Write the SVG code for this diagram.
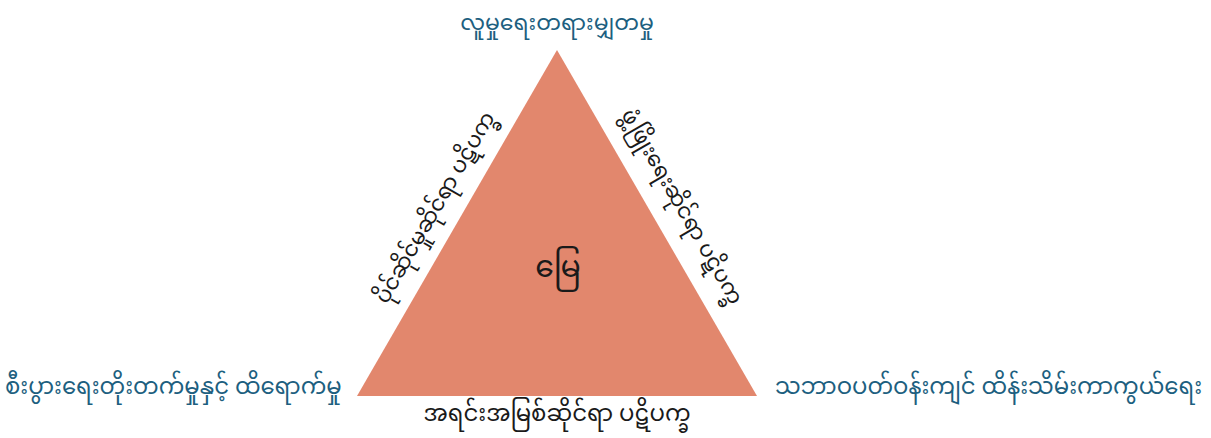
<svg xmlns="http://www.w3.org/2000/svg" width="1211" height="438" viewBox="0 0 1211 438">
<style>
.lbl{font-family:"Noto Sans Myanmar","Padauk","Myanmar Text","Noto Sans",sans-serif;font-size:22.8px;fill:#1d5f80;}
.side{font-family:"Noto Sans Myanmar","Padauk","Myanmar Text","Noto Sans",sans-serif;font-size:21.5px;fill:#1a1a1a;}
</style>
<rect width="1211" height="438" fill="#ffffff"/>
<g id="triangle">
<polygon points="557,50 357,396 757,396" fill="#e2876d"/>
<text class="side" x="558" y="277" text-anchor="middle" style="font-size:30px">မြေ</text>
</g>
<g id="top"><text class="lbl" x="557" y="30" text-anchor="middle" style="font-size:22px">လူမှုရေးတရားမျှတမှု</text></g>
<g id="left"><text class="lbl" x="5" y="394">စီးပွားရေးတိုးတက်မှုနှင့် ထိရောက်မှု</text></g>
<g id="right"><text class="lbl" x="775" y="394">သဘာဝပတ်ဝန်းကျင် ထိန်းသိမ်းကာကွယ်ရေး</text></g>
<g id="leftedge"><text class="side" transform="translate(441,211) rotate(-60)" text-anchor="middle">ပိုင်ဆိုင်မှုဆိုင်ရာ ပဋိပက္ခ</text></g>
<g id="rightedge"><text class="side" transform="translate(676,210) rotate(60)" text-anchor="middle">ဖွံ့ဖြိုးရေးဆိုင်ရာ ပဋိပက္ခ</text></g>
<g id="bottom"><text class="side" x="557" y="421" text-anchor="middle" style="font-size:22.8px">အရင်းအမြစ်ဆိုင်ရာ ပဋိပက္ခ</text></g>
</svg>
